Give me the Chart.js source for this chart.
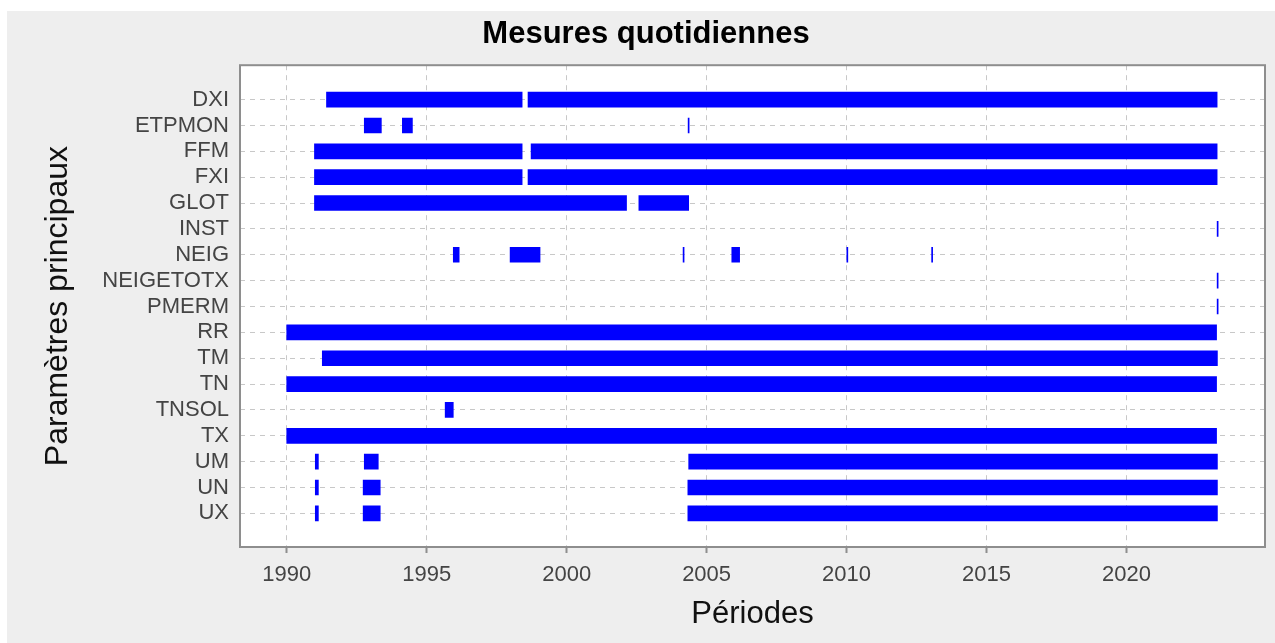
<!DOCTYPE html>
<html>
<head>
<meta charset="utf-8">
<script src="https://cdn.jsdelivr.net/npm/chart.js@4"></script>
<style>
  body { margin: 0; background: #fff; }
  #wrap { position: absolute; left: 7px; top: 11px; width: 1268px; height: 632px; background: #eeeeee; }
</style>
</head>
<body>
<div id="wrap"><canvas id="gantt"></canvas></div>
<script>
// parameters, top to bottom
const params = ['DXI', 'ETPMON', 'FFM', 'FXI', 'GLOT', 'INST', 'NEIG', 'NEIGETOTX', 'PMERM',
    'RR', 'TM', 'TN', 'TNSOL', 'TX', 'UM', 'UN', 'UX']

// measurement periods (decimal years) for each parameter
const DXI = [[1991.42, 1998.41], [1998.62, 2023.24]]
const ETPMON = [[1992.77, 1993.38], [1994.13, 1994.49], [2004.34, 2004.343]]
const FFM = [[1990.99, 1998.41], [1998.73, 2023.24]]
const FXI = [[1990.99, 1998.41], [1998.62, 2023.24]]
const GLOT = [[1990.99, 2002.14], [2002.58, 2004.36]]
const INST = [[2023.24, 2023.243]]
const NEIG = [[1995.95, 1996.16], [1997.98, 1999.05], [2004.16, 2004.163], [2005.90, 2006.18],
    [2010.01, 2010.013], [2013.04, 2013.043]]
const NEIGETOTX = [[2023.24, 2023.243]]
const PMERM = [[2023.24, 2023.243]]
const RR = [[1990.0, 2023.22]]
const TM = [[1991.27, 2023.25]]
const TN = [[1990.0, 2023.22]]
const TNSOL = [[1995.66, 1995.95]]
const TX = [[1990.0, 2023.22]]
const UM = [[1991.02, 1991.13], [1992.77, 1993.27], [2004.36, 2023.25]]
const UN = [[1991.02, 1991.13], [1992.73, 1993.34], [2004.33, 2023.25]]
const UX = [[1991.02, 1991.13], [1992.73, 1993.34], [2004.33, 2023.25]]

const periods = [DXI, ETPMON, FFM, FXI, GLOT, INST, NEIG, NEIGETOTX, PMERM, RR, TM, TN, TNSOL, TX, UM, UN, UX]
const yearTicks = [1990, 1995, 2000, 2005, 2010, 2015, 2020]

const segments = []
periods.forEach((list, i) => {
    list.forEach(p => segments.push({ y: i, x: p }))
})

const fontFamily = '"Liberation Sans", Arial, sans-serif'
const gridColor = '#c8c8c8'
const frameColor = '#8e8e8e'

// white plot area + full frame around it
const plotFrame = {
    id: 'plotFrame',
    beforeDraw(chart) {
        const { ctx, chartArea: a } = chart
        ctx.save()
        ctx.fillStyle = '#ffffff'
        ctx.fillRect(a.left, a.top, a.right - a.left, a.bottom - a.top)
        ctx.restore()
    },
    afterDraw(chart) {
        const { ctx, chartArea: a } = chart
        ctx.save()
        ctx.strokeStyle = frameColor
        ctx.lineWidth = 2
        ctx.strokeRect(a.left, a.top, a.right - a.left, a.bottom - a.top)
        ctx.restore()
    }
}

new Chart(document.getElementById('gantt'), {
    type: 'bar',
    data: {
        datasets: [{
            data: segments,
            backgroundColor: '#0000ff',
            borderWidth: 0,
            barThickness: 15,
            minBarLength: 1
        }]
    },
    plugins: [plotFrame],
    options: {
        indexAxis: 'y',
        responsive: true,
        maintainAspectRatio: false,
        animation: false,
        layout: { padding: { left: 20, right: 10, top: 0, bottom: 0 } },
        plugins: {
            legend: { display: false },
            tooltip: { enabled: false },
            title: {
                display: true,
                text: 'Mesures quotidiennes',
                color: '#000',
                font: { family: fontFamily, size: 31, weight: 'bold' },
                padding: { top: 5, bottom: 12 }
            }
        },
        scales: {
            x: {
                type: 'linear',
                min: 1988.33,
                max: 2024.95,
                afterBuildTicks: scale => { scale.ticks = yearTicks.map(v => ({ value: v })) },
                afterFit: scale => { scale.height = 96 },
                ticks: {
                    color: '#444',
                    font: { family: fontFamily, size: 22 },
                    padding: 9,
                    callback: v => String(v)
                },
                grid: {
                    color: gridColor,
                    tickLength: 6,
                    tickColor: frameColor,
                    tickBorderDash: [],
                    tickWidth: 2
                },
                border: { display: false, dash: [5, 5] },
                title: {
                    display: true,
                    text: 'Périodes',
                    color: '#111',
                    font: { family: fontFamily, size: 31 },
                    padding: { top: 0, bottom: 10 }
                }
            },
            y: {
                type: 'linear',
                reverse: true,
                offset: false,
                min: -1.33,
                max: 17.3,
                afterBuildTicks: scale => { scale.ticks = params.map((_, i) => ({ value: i })) },
                afterFit: scale => { scale.width = 213 },
                ticks: {
                    autoSkip: false,
                    color: '#444',
                    font: { family: fontFamily, size: 22 },
                    padding: 11,
                    callback: v => params[v]
                },
                grid: {
                    color: gridColor,
                    offset: false,
                    drawTicks: false
                },
                border: { display: false, dash: [5, 5] },
                title: {
                    display: true,
                    text: 'Paramètres principaux',
                    color: '#111',
                    font: { family: fontFamily, size: 32 },
                    padding: { top: 12, bottom: 0 }
                }
            }
        }
    }
});
</script>
</body>
</html>
